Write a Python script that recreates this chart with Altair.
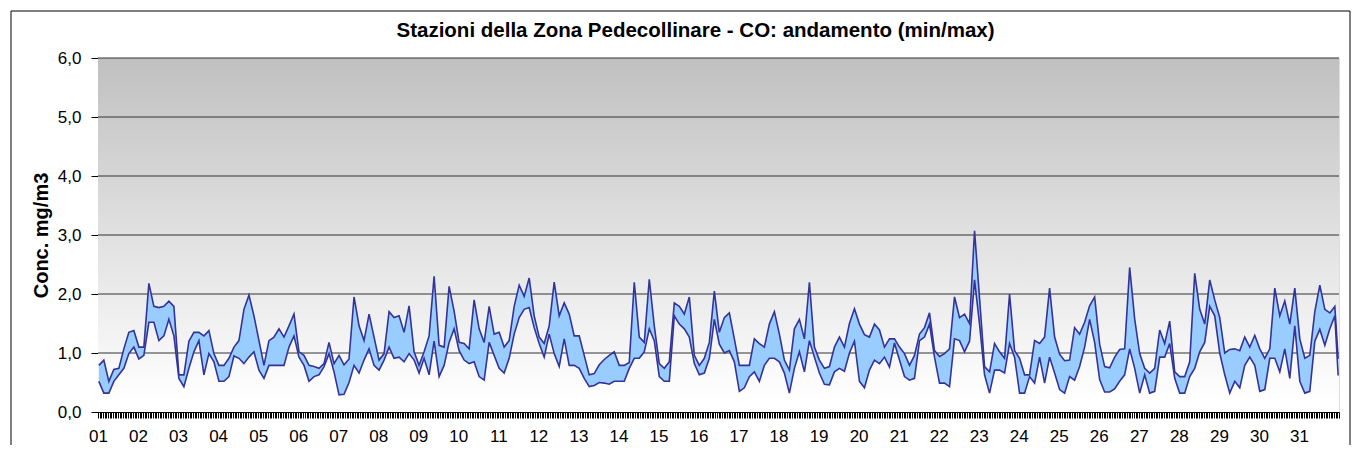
import json
import altair as alt
import pandas as pd

hours = list(range(0, 744, 3)) + [743]

max_vals = [
    0.79, 0.88, 0.52, 0.72, 0.74, 1.07, 1.35, 1.38,   # 01
    1.10, 1.10, 2.18, 1.79, 1.77, 1.79, 1.88, 1.79,   # 02
    0.63, 0.63, 1.20, 1.35, 1.35, 1.29, 1.38, 0.99,   # 03
    0.79, 0.79, 0.91, 1.10, 1.21, 1.74, 1.98, 1.63,   # 04
    1.21, 0.79, 1.21, 1.27, 1.41, 1.27, 1.46, 1.66,   # 05
    1.02, 0.96, 0.79, 0.77, 0.74, 0.82, 1.18, 0.82,   # 06
    0.96, 0.80, 0.90, 1.95, 1.46, 1.21, 1.66, 1.27,   # 07
    0.88, 0.99, 1.70, 1.60, 1.63, 1.35, 1.80, 1.02,   # 08
    0.79, 1.02, 1.29, 2.30, 1.13, 1.10, 2.13, 1.71,   # 09
    1.18, 1.16, 1.07, 1.90, 1.41, 1.18, 1.79, 1.32,   # 10
    1.35, 1.10, 1.21, 1.79, 2.15, 1.96, 2.27, 1.63,   # 11
    1.27, 1.16, 1.46, 2.20, 1.63, 1.85, 1.66, 1.29,   # 12
    1.29, 0.96, 0.63, 0.65, 0.80, 0.89, 0.96, 1.02,   # 13
    0.79, 0.79, 0.84, 2.20, 1.27, 1.18, 2.25, 1.46,   # 14
    0.82, 0.74, 0.85, 1.85, 1.79, 1.66, 1.95, 0.96,   # 15
    0.79, 0.91, 1.18, 2.05, 1.35, 1.60, 1.68, 1.24,   # 16
    0.79, 0.79, 0.79, 1.24, 1.16, 1.10, 1.49, 1.70,   # 17
    1.32, 0.88, 0.71, 1.41, 1.57, 1.24, 2.20, 1.10,   # 18
    0.88, 0.74, 0.77, 1.10, 1.27, 1.10, 1.50, 1.75,   # 19
    1.49, 1.31, 1.27, 1.49, 1.39, 1.10, 1.24, 1.24,   # 20
    1.10, 0.99, 0.79, 0.96, 1.32, 1.43, 1.68, 1.04,   # 21
    0.94, 0.99, 1.07, 1.95, 1.60, 1.66, 1.50, 3.07,   # 22
    1.93, 0.77, 0.68, 1.16, 1.02, 0.91, 2.00, 1.04,   # 23
    0.91, 0.63, 0.63, 1.21, 1.16, 1.27, 2.10, 1.27,   # 24
    0.98, 0.87, 0.88, 1.43, 1.32, 1.52, 1.80, 1.95,   # 25
    1.15, 0.77, 0.75, 0.93, 1.06, 1.07, 2.45, 1.58,   # 26
    0.99, 0.74, 0.66, 0.74, 1.39, 1.16, 1.54, 0.68,   # 27
    0.60, 0.60, 0.85, 2.35, 1.74, 1.49, 2.24, 1.90,   # 28
    1.60, 1.00, 1.06, 1.07, 1.04, 1.27, 1.10, 1.30,   # 29
    1.07, 0.91, 1.07, 2.10, 1.63, 1.88, 1.49, 2.10,   # 30
    1.24, 0.91, 0.96, 1.70, 2.15, 1.74, 1.68, 1.79,   # 31
    0.90,
]

min_vals = [
    0.52, 0.32, 0.32, 0.52, 0.63, 0.74, 0.99, 1.10,   # 01
    0.90, 0.96, 1.52, 1.52, 1.21, 1.29, 1.57, 1.29,   # 02
    0.57, 0.43, 0.74, 1.02, 1.21, 0.63, 0.99, 0.85,   # 03
    0.52, 0.52, 0.60, 0.95, 0.91, 0.82, 0.93, 1.02,   # 04
    0.71, 0.57, 0.79, 0.79, 0.79, 0.79, 1.10, 1.29,   # 05
    0.93, 0.79, 0.52, 0.60, 0.63, 0.77, 0.99, 0.68,   # 06
    0.29, 0.30, 0.50, 0.79, 0.66, 0.88, 1.07, 0.79,   # 07
    0.71, 0.88, 1.10, 0.91, 0.93, 0.85, 0.99, 0.88,   # 08
    0.66, 0.91, 0.63, 1.20, 0.60, 0.79, 1.18, 1.41,   # 09
    1.04, 0.88, 0.82, 0.85, 0.60, 0.54, 1.18, 0.96,   # 10
    0.74, 0.66, 0.91, 1.32, 1.60, 1.74, 1.77, 1.43,   # 11
    1.16, 0.93, 1.32, 0.99, 0.77, 1.24, 0.79, 0.79,   # 12
    0.74, 0.57, 0.43, 0.45, 0.50, 0.49, 0.47, 0.52,   # 13
    0.52, 0.52, 0.74, 0.91, 0.91, 1.02, 1.41, 1.21,   # 14
    0.60, 0.52, 0.52, 1.63, 1.49, 1.41, 1.27, 0.82,   # 15
    0.63, 0.66, 0.91, 1.57, 1.15, 1.00, 1.04, 0.85,   # 16
    0.35, 0.41, 0.60, 0.68, 0.52, 0.79, 0.91, 0.91,   # 17
    0.85, 0.66, 0.32, 0.74, 1.02, 0.68, 1.21, 0.93,   # 18
    0.66, 0.47, 0.46, 0.68, 0.74, 0.69, 1.00, 1.20,   # 19
    0.52, 0.41, 0.71, 0.88, 0.82, 0.93, 0.76, 1.17,   # 20
    0.88, 0.60, 0.54, 0.57, 1.21, 1.27, 1.49, 0.93,   # 21
    0.49, 0.49, 0.43, 1.24, 1.21, 1.02, 1.20, 2.24,   # 22
    1.49, 0.63, 0.32, 0.71, 0.71, 0.66, 1.16, 0.93,   # 23
    0.32, 0.32, 0.60, 0.49, 0.93, 0.49, 0.93, 0.66,   # 24
    0.38, 0.32, 0.60, 0.54, 0.77, 1.10, 1.57, 1.18,   # 25
    0.55, 0.34, 0.34, 0.39, 0.52, 0.63, 1.07, 0.74,   # 26
    0.32, 0.63, 0.32, 0.35, 0.93, 0.93, 1.16, 0.57,   # 27
    0.32, 0.32, 0.60, 0.74, 1.02, 1.18, 1.79, 1.63,   # 28
    1.00, 0.63, 0.32, 0.52, 0.41, 0.79, 0.93, 0.79,   # 29
    0.35, 0.38, 0.91, 0.91, 0.68, 1.07, 0.57, 1.46,   # 30
    0.52, 0.32, 0.35, 1.20, 1.40, 1.13, 1.41, 1.63,   # 31
    0.62,
]

y_ticks = [0, 1, 2, 3, 4, 5, 6]
day_labels = [f"{d:02d}" for d in range(1, 32)]
hour_ticks = list(range(0, 745))

TITLE = "Stazioni della Zona Pedecollinare - CO: andamento (min/max)"
Y_TITLE = "Conc. mg/m3"
FONT = "Liberation Sans"

df = pd.DataFrame({"hour": hours, "vmax": max_vals, "vmin": min_vals})
bg = pd.DataFrame({"x0": [0], "x1": [744], "y0": [0], "y1": [6]})
grid = pd.DataFrame({"y": y_ticks[1:]})

xs = alt.Scale(domain=[0, 744], nice=False, zero=False)
ys = alt.Scale(domain=[0, 6], nice=False)

label_expr = (
    "datum.value % 24 == 0 && datum.value < 744 ? "
    + json.dumps(day_labels)
    + "[datum.value / 24] : ''"
)

x_axis = alt.Axis(
    values=hour_ticks, labelExpr=label_expr, labelOverlap=False,
    labelFlush=False, labelBound=False, tickSize=6, tickColor="black",
    domainColor="black", labelColor="black", labelFontSize=17,
    labelFont=FONT, labelPadding=10, grid=False, title=None,
)
y_axis = alt.Axis(
    values=y_ticks, labelExpr="replace(format(datum.value, '.1f'), '.', ',')",
    tickSize=7, tickColor="black", domainColor="black", labelColor="black",
    labelFontSize=17, labelFont=FONT, labelPadding=10, grid=False,
    title=Y_TITLE, titleFont=FONT, titleFontSize=20, titleFontWeight="bold",
    titleColor="black", titleX=-47, titleY=177, titleAngle=270,
)

gradient = alt.Gradient(
    gradient="linear",
    stops=[alt.GradientStop(color="#c0c0c0", offset=0),
           alt.GradientStop(color="#ffffff", offset=0.97)],
    x1=0, y1=0, x2=0, y2=1,
)

# first layer carries the axes
background = alt.Chart(bg).mark_rect(fill=gradient).encode(
    x=alt.X("x0:Q", scale=xs, axis=x_axis),
    x2="x1",
    y=alt.Y("y0:Q", scale=ys, axis=y_axis),
    y2="y1",
)

gridlines = alt.Chart(grid).mark_rule(color="#333333", strokeWidth=1).encode(
    y=alt.Y("y:Q", scale=ys, axis=y_axis)
)

base = alt.Chart(df).transform_calculate(xc="datum.hour + 0.5")

band = base.mark_area(color="#99ccff", opacity=1).encode(
    x=alt.X("xc:Q", scale=xs, axis=x_axis),
    y=alt.Y("vmax:Q", scale=ys, axis=y_axis),
    y2="vmin:Q",
)
line_max = base.mark_line(color="#333399", strokeWidth=1.6).encode(
    x=alt.X("xc:Q", scale=xs, axis=x_axis),
    y=alt.Y("vmax:Q", scale=ys, axis=y_axis),
)
line_min = base.mark_line(color="#333399", strokeWidth=1.6).encode(
    x=alt.X("xc:Q", scale=xs, axis=x_axis),
    y=alt.Y("vmin:Q", scale=ys, axis=y_axis),
)

frame = alt.Chart(bg).mark_rect(fill=None, stroke="#000000", strokeWidth=1).encode(
    x=alt.value(-87), x2=alt.value(1252), y=alt.value(-47), y2=alt.value(420)
)

chart = (
    alt.layer(background, gridlines, band, line_max, line_min, frame)
    .properties(
        width=1241, height=354,
        title=alt.TitleParams(
            TITLE, font=FONT, fontSize=20.5, fontWeight="bold", color="black",
            anchor="middle", frame="group", offset=0, dy=31, dx=-23,
        ),
        autosize=alt.AutoSizeParams(type="none"),
        padding={"left": 90, "top": 50, "right": 12, "bottom": 33},
    )
    .configure_view(stroke="#a0a0a0", strokeWidth=1)
    .configure(background="white")
)

chart.save("out.html", embed_options={"renderer": "svg", "actions": False})
